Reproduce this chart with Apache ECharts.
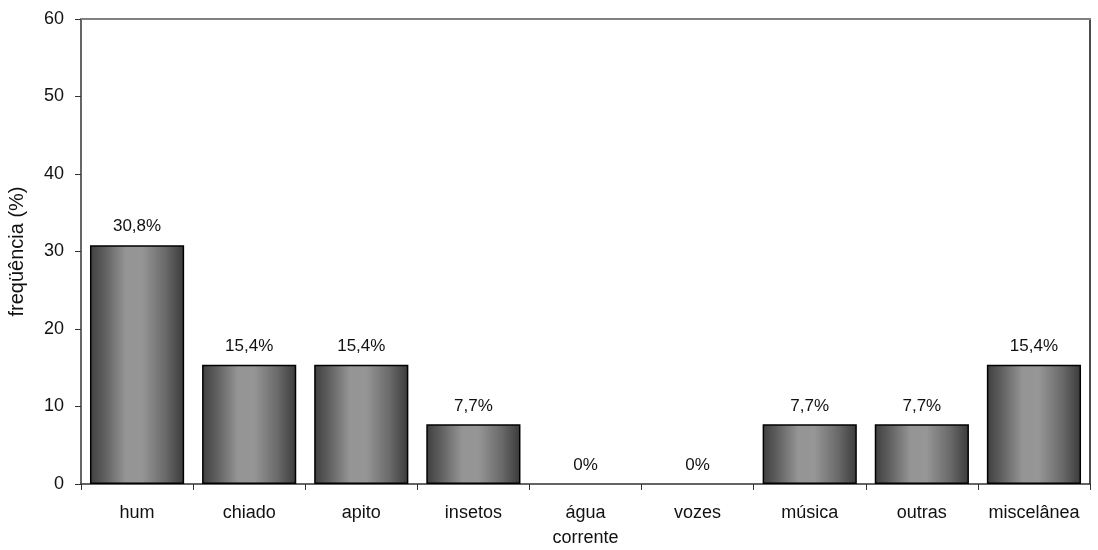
<!DOCTYPE html>
<html>
<head>
<meta charset="utf-8">
<script src="https://cdn.jsdelivr.net/npm/echarts@6/dist/echarts.min.js"></script>
<style>
  html, body { margin: 0; padding: 0; background: #fff; }
  #chart { width: 1098px; height: 550px; }
</style>
</head>
<body>
<div id="chart"></div>
<script>
// Tipos de som relatados e a frequência de cada um (%)
const categories = ['hum', 'chiado', 'apito', 'insetos', 'água\ncorrente', 'vozes', 'música', 'outras', 'miscelânea'];
const frequencies = [30.8, 15.4, 15.4, 7.7, 0, 0, 7.7, 7.7, 15.4];
const valueLabels = ['30,8%', '15,4%', '15,4%', '7,7%', '0%', '0%', '7,7%', '7,7%', '15,4%'];
const yTicks = [0, 10, 20, 30, 40, 50, 60];

const font = 'Liberation Sans, Arial, sans-serif';

// cylinder-like shading across each bar
const barFill = new echarts.graphic.LinearGradient(0, 0, 1, 0, [
  { offset: 0, color: '#3f3f3f' },
  { offset: 0.15, color: '#5e5e5e' },
  { offset: 0.38, color: '#959595' },
  { offset: 0.55, color: '#969696' },
  { offset: 0.8, color: '#6a6a6a' },
  { offset: 1, color: '#3a3a3a' }
]);

// empty categories get no outline, only their label
const barData = frequencies.map(v => ({
  value: v,
  itemStyle: v === 0 ? { borderWidth: 0, color: 'transparent' } : undefined
}));

const chart = echarts.init(document.getElementById('chart'), null, { renderer: 'canvas' });
chart.setOption({
  animation: false,
  backgroundColor: '#ffffff',
  grid: { left: 81, top: 19, right: 8, bottom: 66, containLabel: false, outerBoundsMode: 'none' },
  xAxis: [
    {
      type: 'category',
      data: categories,
      position: 'bottom',
      axisLine: { show: true, onZero: false, lineStyle: { color: '#333', width: 1.5 } },
      axisTick: { show: true, inside: false, length: 6, lineStyle: { color: '#333' } },
      axisLabel: { color: '#111', fontFamily: font, fontSize: 18, margin: 17, lineHeight: 25, interval: 0 },
      splitLine: { show: false }
    },
    {
      type: 'category',
      data: categories,
      position: 'top',
      axisLine: { show: true, onZero: false, lineStyle: { color: '#808080', width: 2 } },
      axisTick: { show: false },
      axisLabel: { show: false }
    }
  ],
  yAxis: [
    {
      type: 'value',
      min: yTicks[0],
      max: yTicks[yTicks.length - 1],
      interval: 10,
      name: 'freqüência (%)',
      nameLocation: 'middle',
      nameGap: 54,
      nameRotate: 90,
      nameTextStyle: { color: '#111', fontFamily: font, fontSize: 20, letterSpacing: 1 },
      axisLine: { show: true, onZero: false, lineStyle: { color: '#333', width: 1.5 } },
      axisTick: { show: true, inside: false, length: 6, lineStyle: { color: '#333' } },
      axisLabel: { color: '#111', fontFamily: font, fontSize: 18, margin: 17 },
      splitLine: { show: false }
    },
    {
      type: 'value',
      min: yTicks[0],
      max: yTicks[yTicks.length - 1],
      interval: 10,
      position: 'right',
      axisLine: { show: true, onZero: false, lineStyle: { color: '#111', width: 1.5 } },
      axisTick: { show: false },
      axisLabel: { show: false },
      splitLine: { show: false }
    }
  ],
  series: [
    {
      type: 'bar',
      data: barData,
      barCategoryGap: '16%',
      itemStyle: { color: barFill, borderColor: '#000', borderWidth: 1.5 },
      label: {
        show: true,
        position: 'top',
        distance: 10,
        color: '#111',
        fontFamily: font,
        fontSize: 17,
        formatter: p => valueLabels[p.dataIndex]
      }
    }
  ]
});
</script>
</body>
</html>
